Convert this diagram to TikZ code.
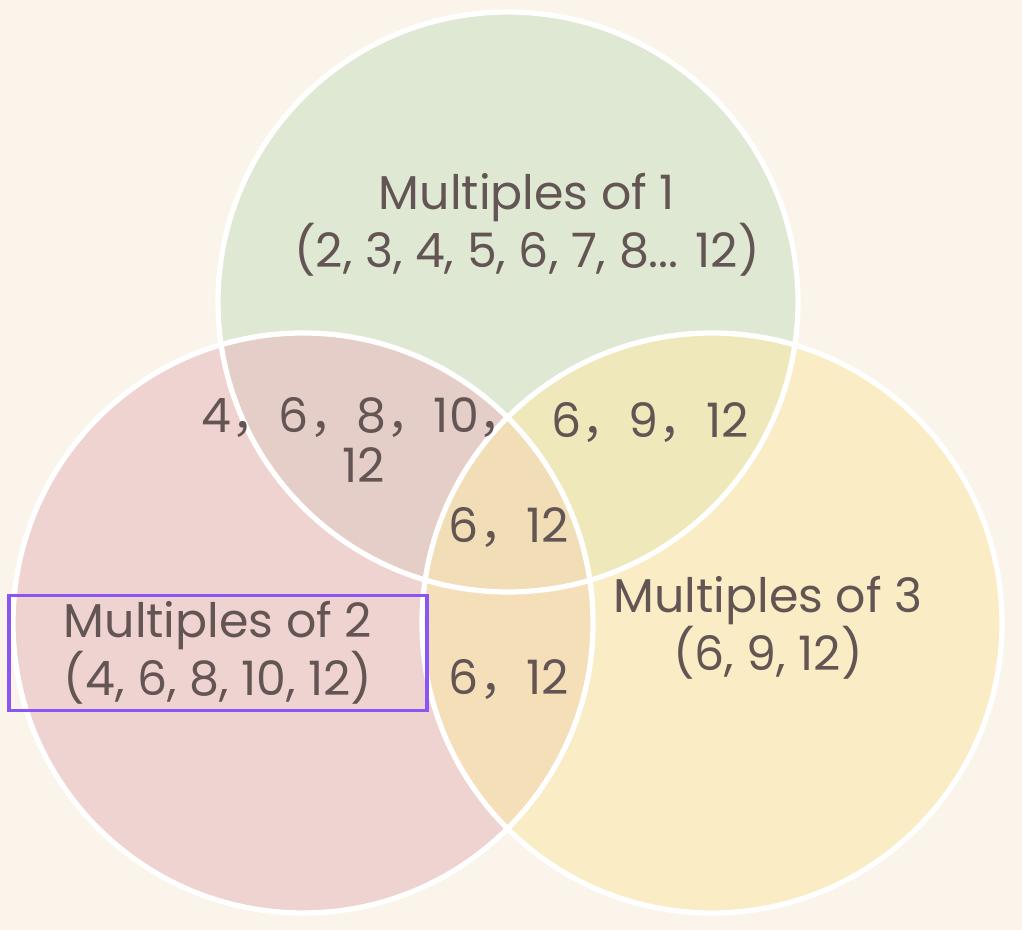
\documentclass[tikz,border=0pt]{standalone}
\usepackage{fontspec}
\setmainfont{Poppins}
\newfontfamily\cjk{Noto Sans CJK SC}
\newcommand\fc{{\cjk ，}}
\definecolor{paper}{HTML}{FAF4EA}
\definecolor{ink}{HTML}{645555}
\definecolor{greenset}{RGB}{205,224,194}
\definecolor{pinkset}{RGB}{232,189,192}
\definecolor{yellowset}{RGB}{250,232,171}
\definecolor{boxline}{HTML}{8B55F3}
\begin{document}
\begin{tikzpicture}[
        set disc/.style={circle,minimum size=11.6cm,inner sep=0pt,fill opacity=0.6},
        set ring/.style={circle,draw=white,line width=3pt,minimum size=11.6cm,inner sep=0pt},
        set label/.style={text=ink,align=center,font=\fontsize{27}{27.5}\selectfont},
        region label/.style={text=ink,align=center,font=\fontsize{27}{29}\selectfont}]

    \fill[paper] (0,0) rectangle (20.44,18.6);
    \useasboundingbox (0,0) rectangle (20.44,18.6);

    % the three sets
    \node[set disc,fill=greenset] (one) at (10.16,12.56) {};
    \node[set disc,fill=pinkset] (two) at (6.06,6.14) {};
    \node[set disc,fill=yellowset] (three) at (14.24,6.14) {};
    \foreach \s in {one,two,three}
        \node[set ring] at (\s) {};

    % set names
    \node[set label] (l1) at (10.54,14.1) {Multiples of 1\\(2, 3, 4, 5, 6, 7, 8... 12)};
    \node[set label,draw=boxline,line width=1.8pt,minimum width=8.36cm,minimum height=2.26cm] (l2) at (4.36,5.54) {Multiples of 2\\(4, 6, 8, 10, 12)};
    \node[set label] (l3) at (15.36,6.04) {Multiples of 3\\(6, 9, 12)};

    % overlaps
    \node[region label] (r12) at (7.28,9.8) {4\fc 6\fc 8\fc 10\fc\\12};
    \node[region label] (r13) at (13.0,10.14) {6\fc 9\fc 12};
    \node[region label] (r123) at (10.18,8.04) {6\fc 12};
    \node[region label] (r23) at (10.18,5.0) {6\fc 12};
\end{tikzpicture}
\end{document}
